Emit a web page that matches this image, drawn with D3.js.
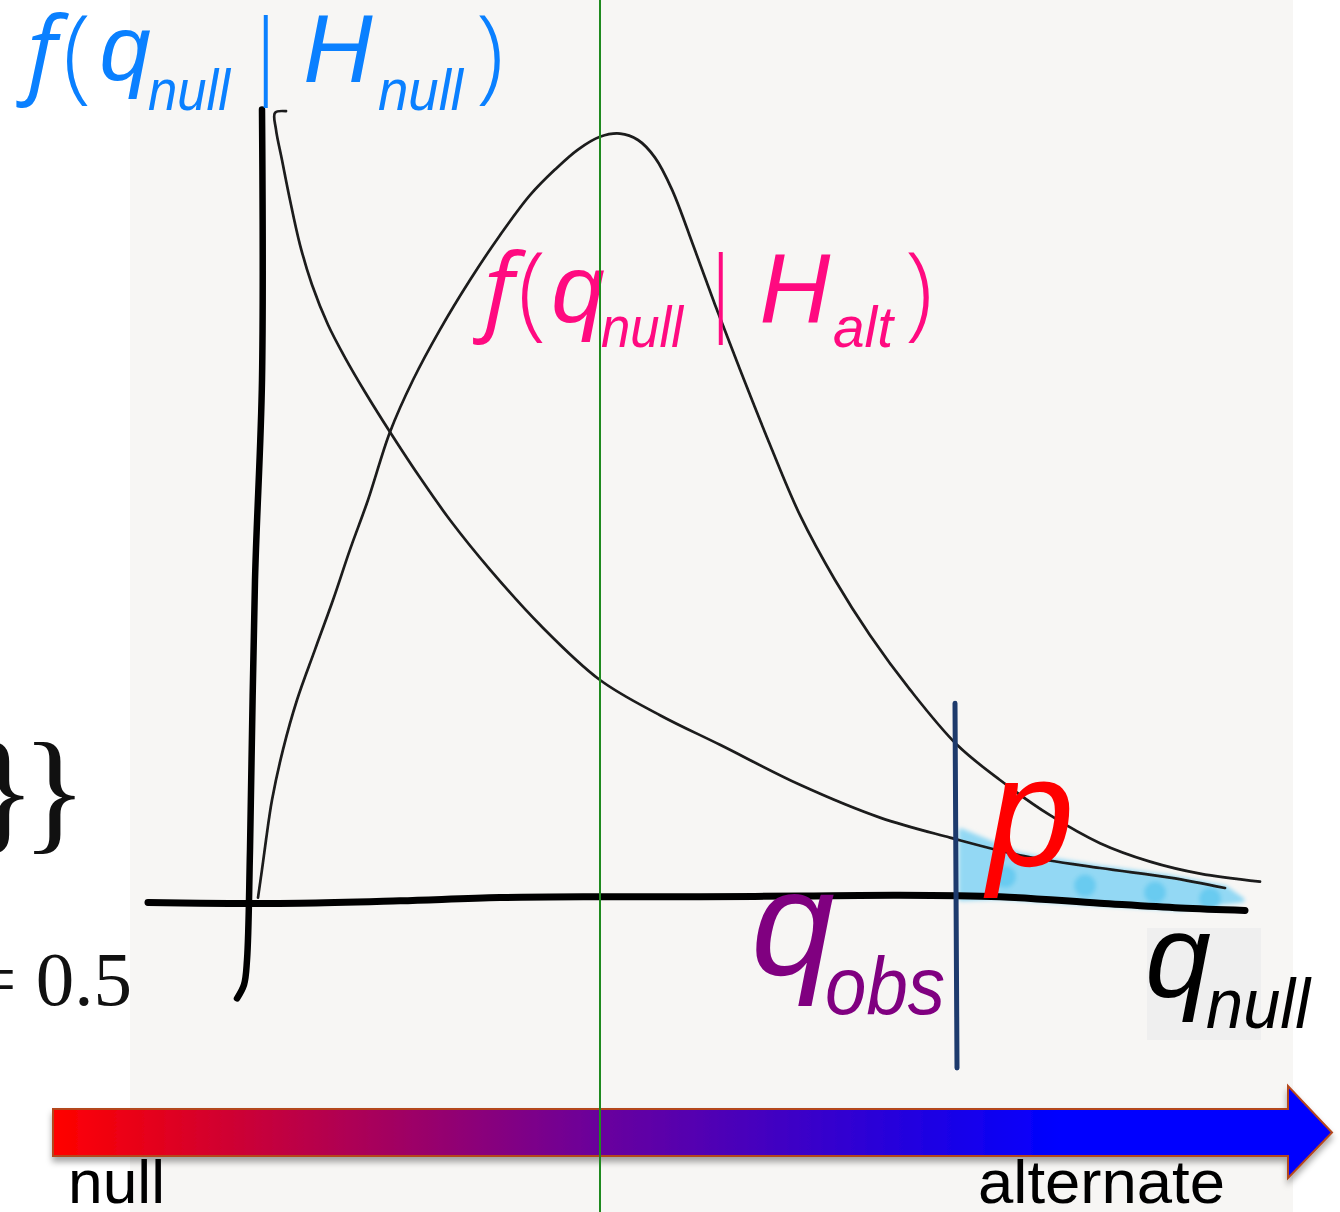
<!DOCTYPE html>
<html>
<head>
<meta charset="utf-8">
<script src="https://cdn.jsdelivr.net/npm/d3@7"></script>
<style>
  html, body { margin: 0; padding: 0; background: #ffffff; }
  svg { display: block; }
</style>
</head>
<body>
<script>
// ---- sketch data (q, density) ----
// density of the test statistic under the null hypothesis
const nullCurve = [
  [0.41, 0.986], [0.30, 0.984], [0.31, 0.963], [0.37, 0.925], [0.45, 0.875],
  [0.55, 0.819], [0.67, 0.769], [0.83, 0.719], [1.00, 0.678], [1.20, 0.635],
  [1.45, 0.585], [1.75, 0.528], [2.05, 0.475], [2.45, 0.413], [2.95, 0.344],
  [3.55, 0.275], [4.15, 0.231], [4.75, 0.194], [5.55, 0.144], [6.35, 0.103],
  [7.05, 0.078], [7.75, 0.056], [8.55, 0.040], [9.25, 0.028], [9.80, 0.015]
];
// density of the test statistic under the alternate hypothesis
const altCurve = [
  [0.13, 0.003], [0.17, 0.038], [0.21, 0.075], [0.27, 0.125], [0.38, 0.188],
  [0.52, 0.250], [0.70, 0.313], [0.88, 0.375], [1.05, 0.438], [1.23, 0.500],
  [1.45, 0.585], [1.68, 0.650], [1.95, 0.713], [2.25, 0.775], [2.55, 0.831],
  [2.85, 0.881], [3.10, 0.913], [3.33, 0.938], [3.55, 0.954], [3.75, 0.958],
  [3.93, 0.950], [4.10, 0.928], [4.27, 0.888], [4.48, 0.819], [4.70, 0.744],
  [4.95, 0.663], [5.25, 0.569], [5.55, 0.481], [5.90, 0.400], [6.25, 0.331],
  [6.65, 0.263], [7.12, 0.194], [7.55, 0.150], [8.05, 0.106], [8.55, 0.071],
  [9.05, 0.048], [9.55, 0.033], [10.15, 0.023]
];
// hand-drawn horizontal axis
const baseAxis = [
  [-0.97, -0.003], [-0.45, -0.004], [0.55, -0.004], [1.55, -0.001], [2.55, 0.003],
  [3.55, 0.004], [4.55, 0.004], [5.55, 0.005], [6.55, 0.006], [7.55, 0.004],
  [8.55, -0.004], [9.35, -0.010], [10.0, -0.013]
];
// hand-drawn vertical axis
const vertAxis = [
  [0.17, 0.988], [0.17, 0.650], [0.10, 0.400], [0.05, 0.063],
  [0.02, -0.075], [-0.01, -0.106], [-0.08, -0.123]
];
const qObs = 7.1;                 // observed statistic
const qObsSpan = [0.246, -0.21];  // vertical extent of the q_obs marker
const qMid = 3.55;                // green reference line
const arrowLabels = ["null", "alternate"];

// ---- layout ----
const W = 1340, H = 1212;
const x = d3.scaleLinear().domain([0, 10]).range([245, 1245]);
const y = d3.scaleLinear().domain([0, 1]).range([900, 100]);

const svg = d3.select("body").append("svg")
  .attr("width", W).attr("height", H);

const defs = svg.append("defs");
const grad = defs.append("linearGradient").attr("id", "arrowGrad")
  .attr("gradientUnits", "userSpaceOnUse")
  .attr("x1", 55).attr("x2", 1060).attr("y1", 0).attr("y2", 0);
grad.append("stop").attr("offset", "0%").attr("stop-color", "#ff0000");
grad.append("stop").attr("offset", "54%").attr("stop-color", "#6a009c");
grad.append("stop").attr("offset", "100%").attr("stop-color", "#0000ff");

const shadow = defs.append("filter").attr("id", "shadow")
  .attr("x", "-5%").attr("y", "-50%").attr("width", "110%").attr("height", "200%");
shadow.append("feDropShadow").attr("dx", 0).attr("dy", 5).attr("stdDeviation", 3)
  .attr("flood-color", "#000").attr("flood-opacity", 0.35);

const soft = defs.append("filter").attr("id", "soft")
  .attr("x", "-10%").attr("y", "-50%").attr("width", "120%").attr("height", "200%");
soft.append("feGaussianBlur").attr("stdDeviation", 2.2);

const lineSoft = defs.append("filter").attr("id", "lineSoft");
lineSoft.append("feGaussianBlur").attr("stdDeviation", 0.6);

// paper panel
svg.append("rect").attr("x", 130).attr("y", 0).attr("width", 1163).attr("height", H)
  .attr("fill", "#f7f6f4");

// partial formula text at the left edge
const serif = svg.append("g").attr("font-family", "Liberation Serif").attr("fill", "#111");
serif.append("text").attr("x", 73).attr("y", 836).attr("text-anchor", "end")
  .attr("font-size", 136).attr("letter-spacing", -14).text("}}");
serif.append("text").attr("x", 132).attr("y", 1005).attr("text-anchor", "end")
  .attr("font-size", 77).text("= 0.5");

// linear interpolation along a drawn path
function interp(arr, q) {
  const i = d3.bisector(d => d[0]).left(arr, q);
  if (i <= 0) return arr[0][1];
  if (i >= arr.length) return arr[arr.length - 1][1];
  const a = arr[i - 1], b = arr[i];
  return a[1] + (b[1] - a[1]) * (q - a[0]) / (b[0] - a[0]);
}

// p-value region: under the null density, right of q_obs
const qStart = qObs + 0.06;
const tail = nullCurve.filter(d => d[0] > qStart);
const tailTop = [[qStart, interp(nullCurve, qStart) + 0.012], ...tail, [9.97, 0.0]];
const tailBottom = baseAxis.filter(d => d[0] > qStart && d[0] < 9.97).reverse();
const shadePts = [...tailTop, ...tailBottom, [qStart, interp(baseAxis, qStart) - 0.003]];
const shade = svg.append("g").attr("filter", "url(#soft)");
shade.append("path")
  .attr("d", d3.line().x(d => x(d[0])).y(d => y(d[1])).curve(d3.curveLinearClosed)(shadePts))
  .attr("fill", "#8ed7f4").attr("stroke", "#8ed7f4").attr("stroke-width", 5)
  .attr("stroke-linejoin", "round").attr("opacity", 0.95);
shade.selectAll("circle").data(tail.slice(0, 4))
  .join("circle")
  .attr("cx", d => x(d[0]) - 15)
  .attr("cy", d => (y(d[1]) + y(interp(baseAxis, d[0]))) / 2)
  .attr("r", 11).attr("fill", "#5fc8f0").attr("opacity", 0.8);

const line = d3.line().x(d => x(d[0])).y(d => y(d[1])).curve(d3.curveCatmullRom.alpha(0.5));

// density curves
const curves = svg.append("g").attr("fill", "none").attr("stroke", "#1b1b1b")
  .attr("stroke-linecap", "round").attr("stroke-linejoin", "round").attr("filter", "url(#lineSoft)");
curves.append("path").attr("d", line(nullCurve)).attr("stroke-width", 2.7);
curves.append("path").attr("d", line(altCurve)).attr("stroke-width", 2.7);
// axes
curves.append("path").attr("d", line(baseAxis)).attr("stroke-width", 7).attr("stroke", "#050505");
curves.append("path").attr("d", line(vertAxis)).attr("stroke-width", 6.5).attr("stroke", "#050505");

// q_obs marker
svg.append("line")
  .attr("x1", x(qObs)).attr("x2", x(qObs) + 2)
  .attr("y1", y(qObsSpan[0])).attr("y2", y(qObsSpan[1]))
  .attr("stroke", "#1d3a6c").attr("stroke-width", 5).attr("stroke-linecap", "round");

// text helper
function label(g, px, py, str, o) {
  const t = g.append("text").attr("x", px).attr("y", py)
    .attr("font-family", o.family || "Liberation Sans")
    .attr("font-style", o.style || "normal")
    .attr("font-weight", o.weight || "normal")
    .attr("font-size", o.size).attr("fill", o.fill)
    .attr("text-anchor", o.anchor || "start").text(str);
  if (o.len) t.attr("textLength", o.len).attr("lengthAdjust", "spacingAndGlyphs");
  return t;
}

// f(q_null | H_null)
const blue = "#0a80ff";
const gB = svg.append("g");
label(gB, 42, 85, "f", { family: "Open Sans", style: "italic", size: 95, fill: blue, anchor: "middle" });
label(gB, 77, 90, "(", { family: "Open Sans", weight: 300, size: 104, fill: blue, anchor: "middle" });
label(gB, 125, 80, "q", { style: "italic", size: 92, fill: blue, anchor: "middle" });
label(gB, 148, 110, "null", { style: "italic", size: 57, fill: blue, len: 82 });
label(gB, 266, 85, "|", { family: "Open Sans", weight: 300, size: 92, fill: blue, anchor: "middle" });
label(gB, 338, 82, "H", { style: "italic", size: 96, fill: blue, anchor: "middle" });
label(gB, 378, 110, "null", { style: "italic", size: 57, fill: blue, len: 85 });
label(gB, 490, 90, ")", { family: "Open Sans", weight: 300, size: 104, fill: blue, anchor: "middle" });

// f(q_null | H_alt)
const pink = "#ff0a80";
const gP = svg.append("g");
label(gP, 499, 322, "f", { family: "Open Sans", style: "italic", size: 96, fill: pink, anchor: "middle" });
label(gP, 532, 327, "(", { family: "Open Sans", weight: 300, size: 104, fill: pink, anchor: "middle" });
label(gP, 578, 322, "q", { style: "italic", size: 96, fill: pink, anchor: "middle" });
label(gP, 601, 347, "null", { style: "italic", size: 58, fill: pink, len: 82 });
label(gP, 721, 322, "|", { family: "Open Sans", weight: 300, size: 92, fill: pink, anchor: "middle" });
label(gP, 795, 322, "H", { style: "italic", size: 98, fill: pink, anchor: "middle" });
label(gP, 833, 347, "alt", { style: "italic", size: 58, fill: pink, len: 60 });
label(gP, 919, 327, ")", { family: "Open Sans", weight: 300, size: 104, fill: pink, anchor: "middle" });

// p
label(svg, 1031, 866, "p", { style: "italic", size: 156, fill: "#ff0000", anchor: "middle" });

// q_obs
const purple = "#800080";
label(svg, 793, 975, "q", { style: "italic", size: 150, fill: purple, anchor: "middle" });
label(svg, 825, 1014, "obs", { style: "italic", size: 82, fill: purple, len: 120 });

// q_null axis label on a grey tag
svg.append("rect").attr("x", 1147).attr("y", 928).attr("width", 114).attr("height", 112).attr("fill", "#efefef");
label(svg, 1178, 997, "q", { style: "italic", size: 118, fill: "#000", anchor: "middle" });
label(svg, 1206, 1028, "null", { style: "italic", size: 70, fill: "#000", len: 104 });

// null -> alternate arrow
const ar = { x0: 53, x1: 1288, tip: 1332, yTop: 1109, yBot: 1156, hTop: 1086, hBot: 1178 };
const p = d3.path();
p.moveTo(ar.x0, ar.yTop); p.lineTo(ar.x1, ar.yTop); p.lineTo(ar.x1, ar.hTop);
p.lineTo(ar.tip, (ar.yTop + ar.yBot) / 2); p.lineTo(ar.x1, ar.hBot); p.lineTo(ar.x1, ar.yBot);
p.lineTo(ar.x0, ar.yBot); p.closePath();
svg.append("path").attr("d", p.toString()).attr("fill", "url(#arrowGrad)")
  .attr("stroke", "#b4461c").attr("stroke-width", 2).attr("filter", "url(#shadow)");

label(svg, 68, 1203, arrowLabels[0], { size: 62, fill: "#000", len: 97 });
label(svg, 978, 1203, arrowLabels[1], { size: 62, fill: "#000", len: 247 });

// green reference line across the whole sketch
svg.append("line").attr("x1", x(qMid)).attr("x2", x(qMid)).attr("y1", 0).attr("y2", H)
  .attr("stroke", "#1f8a1f").attr("stroke-width", 2);
</script>
</body>
</html>
